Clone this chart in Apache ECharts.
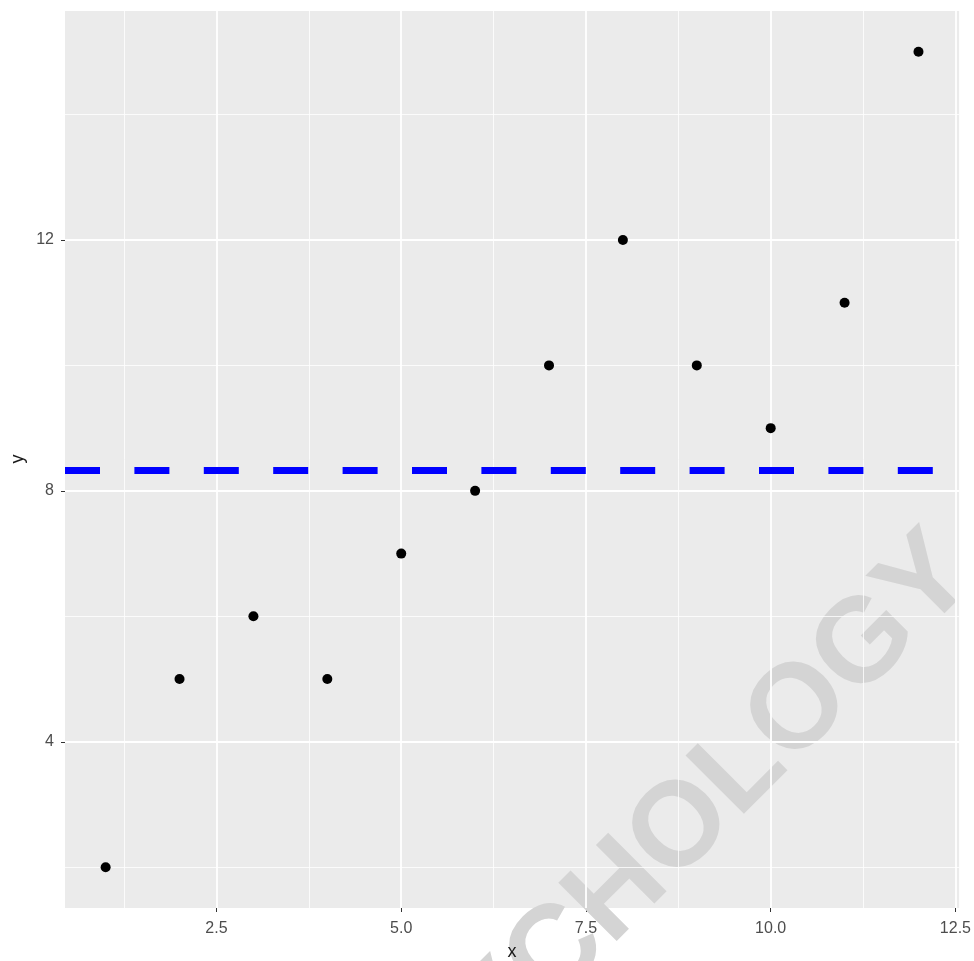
<!DOCTYPE html>
<html>
<head>
<meta charset="utf-8">
<script src="https://cdn.jsdelivr.net/npm/echarts@6/dist/echarts.min.js"></script>
<style>
  html, body { margin: 0; padding: 0; background: #ffffff; }
  #chart { width: 974px; height: 961px; }
</style>
</head>
<body>
<div id="chart"></div>
<script>
// ---- data ----
const xValues = [1, 2, 3, 4, 5, 6, 7, 8, 9, 10, 11, 12];
const yValues = [2, 5, 6, 5, 7, 8, 10, 12, 10, 9, 11, 15];
const xTicks = [2.5, 5, 7.5, 10, 12.5];
const xTickLabels = ['2.5', '5.0', '7.5', '10.0', '12.5'];
const yTicks = [4, 8, 12];
const yTickLabels = ['4', '8', '12'];
const xMinorTicks = [1.25, 3.75, 6.25, 8.75, 11.25];
const yMinorTicks = [2, 6, 10, 14];
const xRange = [0.45, 12.55];
const yRange = [1.35, 15.65];
const xTitle = 'x';
const yTitle = 'y';
const watermarkText = 'PSYCHOLOGY';

// horizontal reference line: mean of y
const meanY = yValues.reduce((a, b) => a + b, 0) / yValues.length;

const points = xValues.map((x, i) => [x, yValues[i]]);

const FONT = "'Liberation Sans', Arial, sans-serif";

const chart = echarts.init(document.getElementById('chart'), null, { renderer: 'canvas' });

function gridLines(values, axisKey, width) {
  return values.map(v => ({ [axisKey]: v, lineStyle: { color: '#ffffff', width: width, type: 'solid' } }));
}

const option = {
  animation: false,
  backgroundColor: '#ffffff',
  grid: {
    left: 65, right: 14, top: 11, bottom: 53,
    show: true, backgroundColor: '#ebebeb', borderWidth: 0
  },
  xAxis: {
    type: 'value',
    min: xRange[0], max: xRange[1],
    axisLine: { show: false },
    splitLine: { show: false },
    axisTick: { show: true, customValues: xTicks, length: 4, lineStyle: { color: '#333333', width: 1 } },
    axisLabel: {
      customValues: xTicks,
      margin: 13,
      color: '#4d4d4d', fontSize: 16, fontFamily: FONT,
      formatter: v => { const i = xTicks.indexOf(v); return i >= 0 ? xTickLabels[i] : ''; }
    }
  },
  yAxis: {
    type: 'value',
    min: yRange[0], max: yRange[1],
    axisLine: { show: false },
    splitLine: { show: false },
    axisTick: { show: true, customValues: yTicks, length: 4, lineStyle: { color: '#333333', width: 1 } },
    axisLabel: {
      customValues: yTicks,
      margin: 11,
      color: '#4d4d4d', fontSize: 16, fontFamily: FONT,
      formatter: v => { const i = yTicks.indexOf(v); return i >= 0 ? yTickLabels[i] : ''; }
    }
  },
  graphic: [
    {
      type: 'text', x: 512, y: 952, z: 10,
      style: { text: xTitle, fill: '#1a1a1a', fontSize: 18, fontFamily: FONT, align: 'center', verticalAlign: 'middle' }
    },
    {
      type: 'text', x: 18, y: 459, rotation: Math.PI / 2, z: 10,
      style: { text: yTitle, fill: '#1a1a1a', fontSize: 18, fontFamily: FONT, align: 'center', verticalAlign: 'middle' }
    },
    {
      type: 'text', x: 656, y: 855, rotation: Math.PI / 4, z: 3,
      style: { text: watermarkText, fill: '#d4d4d4', fontSize: 120, fontWeight: 'bold', fontFamily: FONT, align: 'center', verticalAlign: 'middle' }
    }
  ],
  series: [
    {
      type: 'line', data: [], silent: true, z: 1,
      markLine: {
        silent: true, symbol: ['none', 'none'], label: { show: false }, animation: false,
        data: [].concat(
          gridLines(xMinorTicks, 'xAxis', 0.8),
          gridLines(yMinorTicks, 'yAxis', 0.8),
          gridLines(xTicks, 'xAxis', 1.8),
          gridLines(yTicks, 'yAxis', 1.8)
        )
      }
    },
    {
      type: 'scatter', data: points, z: 5,
      symbol: 'circle', symbolSize: 10,
      itemStyle: { color: '#000000', opacity: 1 },
      markLine: {
        silent: true, symbol: ['none', 'none'], label: { show: false }, animation: false,
        data: [{ yAxis: meanY }],
        lineStyle: { color: '#0000ff', width: 7, type: [35, 34.4], cap: 'butt' }
      }
    }
  ]
};

chart.setOption(option);
</script>
</body>
</html>
